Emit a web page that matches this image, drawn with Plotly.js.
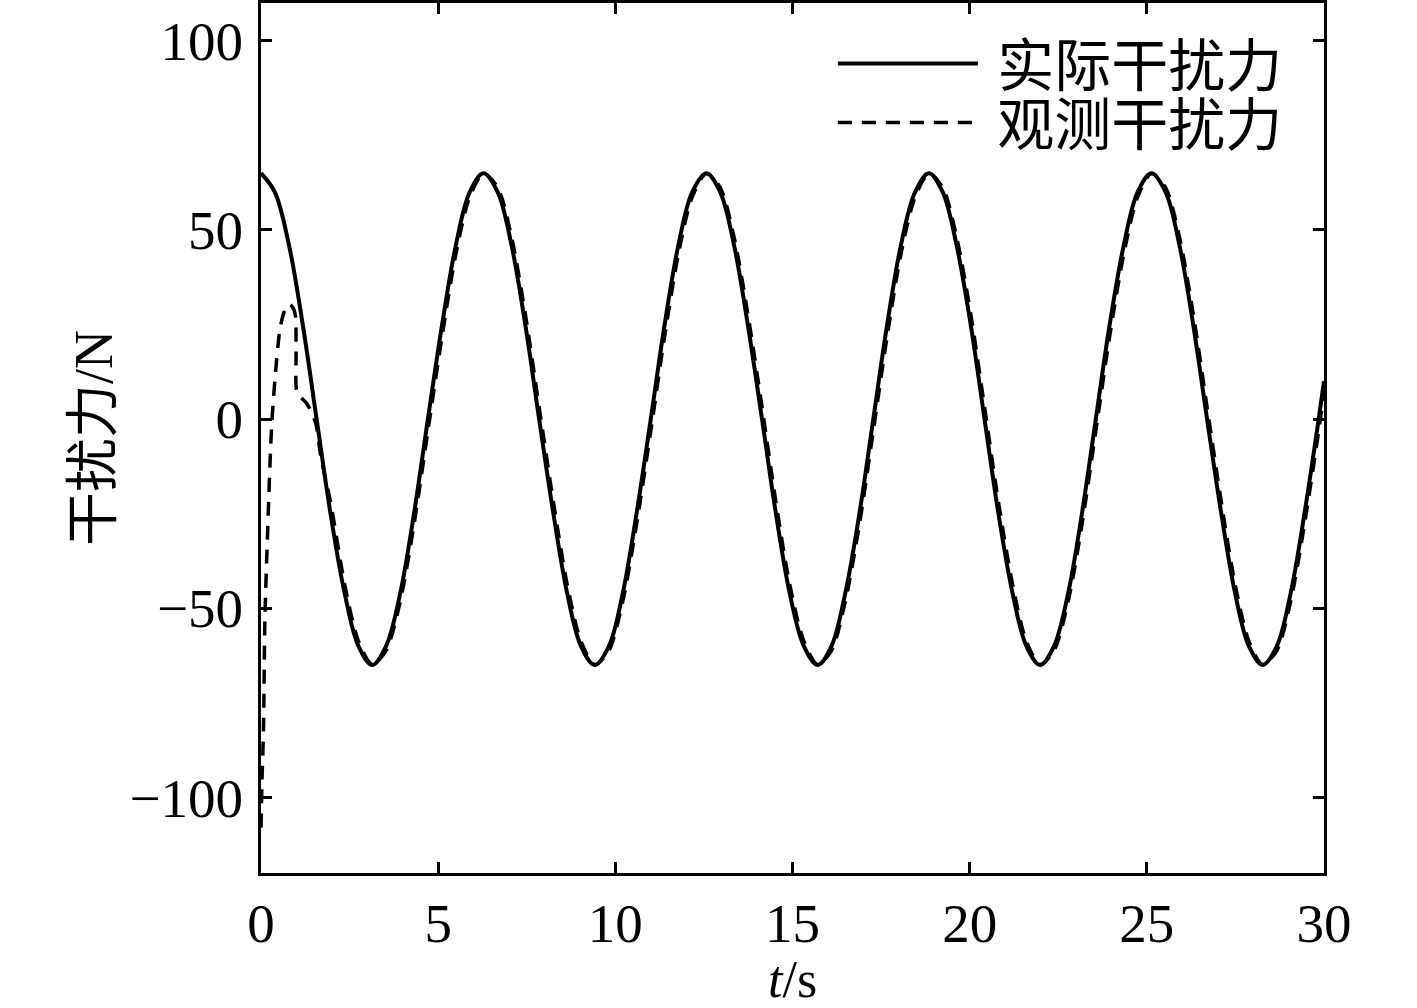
<!DOCTYPE html>
<html>
<head>
<meta charset="utf-8">
<script src="https://cdn.plot.ly/plotly-3.0.1.min.js"></script>
<style>
  body { margin: 0; background: #fff; }
  #plot { width: 1417px; height: 1008px; }
</style>
</head>
<body>
<div id="plot"></div>
<script>
// time samples (s) for the actual disturbance, read at every 1/8 of half-period
var tAct = [0, 0.39, 0.79, 1.18, 1.57, 1.96, 2.36, 2.75, 3.14, 3.53, 3.93, 4.32, 4.71, 5.11, 5.50, 5.89,
  6.28, 6.68, 7.07, 7.46, 7.85, 8.25, 8.64, 9.03, 9.42, 9.82, 10.21, 10.60, 11.00, 11.39, 11.78, 12.17,
  12.57, 12.96, 13.35, 13.74, 14.14, 14.53, 14.92, 15.32, 15.71, 16.10, 16.49, 16.89, 17.28, 17.67, 18.06, 18.46,
  18.85, 19.24, 19.63, 20.03, 20.42, 20.81, 21.21, 21.60, 21.99, 22.38, 22.78, 23.17, 23.56, 23.95, 24.35, 24.74,
  25.13, 25.53, 25.92, 26.31, 26.70, 27.10, 27.49, 27.88, 28.27, 28.67, 29.06, 29.45, 29.85, 30.00];

// actual disturbance force (N)
var fAct = [65, 60, 46, 24.9, 0, -24.9, -46, -60, -65, -60, -46, -24.9, 0, 24.9, 46, 60,
  65, 60, 46, 24.9, 0, -24.9, -46, -60, -65, -60, -46, -24.9, 0, 24.9, 46, 60,
  65, 60, 46, 24.9, 0, -24.9, -46, -60, -65, -60, -46, -24.9, 0, 24.9, 46, 60,
  65, 60, 46, 24.9, 0, -24.9, -46, -60, -65, -60, -46, -24.9, 0, 24.9, 46, 60,
  65, 60, 46, 24.9, 0, -24.9, -46, -60, -65, -60, -46, -24.9, 0, 10];

// observed disturbance: start-up transient
var tObsStart = [0, 0.03, 0.07, 0.11, 0.19, 0.30, 0.43, 0.54, 0.66, 0.78, 0.90, 0.97, 0.99, 1.02, 1.15, 1.30, 1.54, 1.69];
var fObsStart = [-108, -95, -82, -53, -29, -2, 14.5, 24, 28.5, 30.4, 29.5, 27.4, 18, 6.8, 5.5, 4, -1, -10];

// observed disturbance after convergence (slight lag behind the actual one), at tAct[5..]
var fObsTrack = [-21.8, -43.6, -58.7, -64.9, -61.2, -48.2, -27.8, -3.2, 21.8, 43.6, 58.7,
  64.9, 61.2, 48.2, 27.8, 3.2, -21.8, -43.6, -58.7, -64.9, -61.2, -48.2, -27.8, -3.2, 21.8, 43.6, 58.7,
  64.9, 61.2, 48.2, 27.8, 3.2, -21.8, -43.6, -58.7, -64.9, -61.2, -48.2, -27.8, -3.2, 21.8, 43.6, 58.7,
  64.9, 61.2, 48.2, 27.8, 3.2, -21.8, -43.6, -58.7, -64.9, -61.2, -48.2, -27.8, -3.2, 21.8, 43.6, 58.7,
  64.9, 61.2, 48.2, 27.8, 3.2, -21.8, -43.6, -58.7, -64.9, -61.2, -48.2, -27.8, -3.2, 6.8];

var xTicks = [0, 5, 10, 15, 20, 25, 30];
var yTicks = [-100, -50, 0, 50, 100];
var yTickText = ['\u2212100', '\u221250', '0', '50', '100'];

var serif = 'Liberation Serif, Times New Roman, serif';
var cjk = 'Liberation Serif, Noto Sans CJK SC, serif';

var actual = {
  x: tAct,
  y: fAct,
  mode: 'lines',
  name: '\u00a0实际干扰力',
  legend: 'legend',
  line: { color: '#000', width: 4, shape: 'spline', smoothing: 1 }
};

var observed = {
  x: tObsStart.concat(tAct.slice(5)),
  y: fObsStart.concat(fObsTrack),
  mode: 'lines',
  name: '\u00a0观测干扰力',
  legend: 'legend2',
  line: { color: '#000', width: 3.5, dash: '14px,10px', shape: 'spline', smoothing: 0.8 }
};

var axisCommon = {
  showgrid: false,
  zeroline: false,
  showline: true,
  linecolor: '#000',
  linewidth: 3,
  mirror: 'ticks',
  ticks: 'inside',
  ticklen: 11,
  tickwidth: 3,
  tickcolor: '#000',
  tickfont: { family: serif, size: 55, color: '#000' }
};

var legendCommon = {
  xanchor: 'left', yanchor: 'middle',
  bgcolor: 'rgba(0,0,0,0)',
  itemwidth: 140,
  font: { family: cjk, size: 57, color: '#000' }
};

var layout = {
  width: 1417,
  height: 1008,
  margin: { l: 261, r: 93, t: 3, b: 135 },
  paper_bgcolor: '#fff',
  plot_bgcolor: '#fff',
  showlegend: true,
  legend: Object.assign({}, legendCommon, { x: 0.538, y: 0.93 }),
  legend2: Object.assign({}, legendCommon, { x: 0.538, y: 0.862 }),
  xaxis: Object.assign({}, axisCommon, {
    range: [0, 30],
    tickvals: xTicks,
    ticktext: xTicks.map(String),
    ticklabelstandoff: 0
  }),
  yaxis: Object.assign({}, axisCommon, {
    range: [-120, 110],
    tickvals: yTicks,
    ticktext: yTickText,
    ticklabelstandoff: 4,
    title: { text: '干扰力/N', font: { family: cjk, size: 54, color: '#000' }, standoff: 0 }
  }),
  // x-axis title placed as annotation so it can sit at the very bottom edge like the original
  annotations: [{
    text: '<i>t</i>/s',
    xref: 'paper', yref: 'paper',
    x: 0.5, y: -0.122,
    xanchor: 'center', yanchor: 'middle',
    showarrow: false,
    font: { family: serif, size: 52, color: '#000' }
  }]
};

Plotly.newPlot('plot', [actual, observed], layout, { displayModeBar: false, staticPlot: true });
</script>
</body>
</html>
